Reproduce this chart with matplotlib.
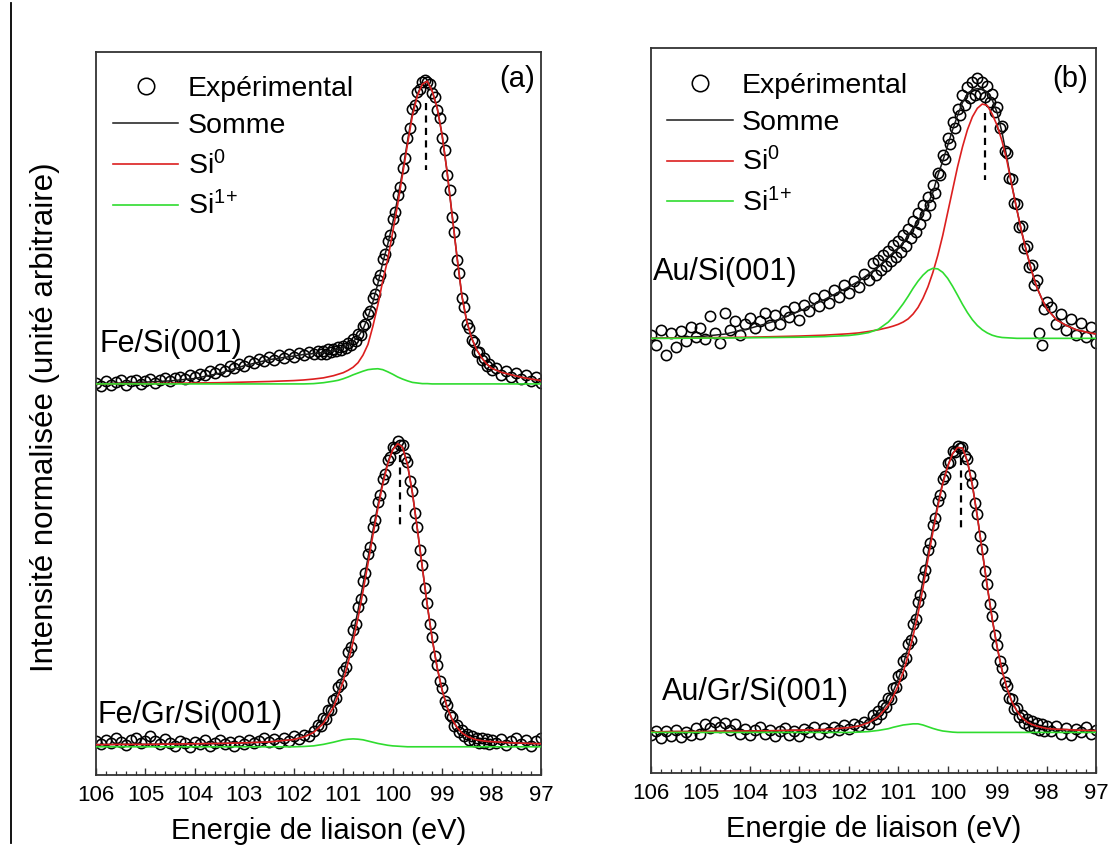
import numpy as np
import matplotlib
matplotlib.use("Agg")
import matplotlib.pyplot as plt
from matplotlib.lines import Line2D
from matplotlib.ticker import MultipleLocator, FormatStrFormatter

plt.rcParams['font.family'] = ['Liberation Sans', 'DejaVu Sans']
plt.rcParams['mathtext.fontset'] = 'custom'
plt.rcParams['mathtext.rm'] = 'Liberation Sans'
plt.rcParams['mathtext.it'] = 'Liberation Sans:italic'
plt.rcParams['mathtext.bf'] = 'Liberation Sans:bold'

# ---------------- data ----------------
# energies of the fitted curves (eV)
E_FIT = [106.0, 105.5, 105.0, 104.5, 104.0, 103.5, 103.0, 102.5, 102.0,
         101.8, 101.6, 101.4, 101.2,
         101.1, 101.0, 100.9, 100.8, 100.7, 100.6, 100.5, 100.4, 100.3, 100.2,
         100.1, 100.0, 99.9, 99.8, 99.7, 99.6, 99.5, 99.4, 99.3, 99.2,
         99.1, 99.0, 98.9, 98.8, 98.7, 98.6, 98.5, 98.4, 98.3, 98.2,
         98.1, 98.0,
         97.8, 97.6, 97.4, 97.2, 97.0]

# energies of the experimental points (eV)
E_EXP = np.concatenate([np.linspace(106.0, 101.6, 45),
                        np.linspace(101.5, 98.0, 71),
                        np.linspace(97.9, 97.0, 10)])

# ---- Fe/Si(001) ----
fesi_exp = [0.004, -0.008, 0.010, -0.004, 0.006, 0.012, -0.002, 0.008, 0.014, 0.000,
            0.010, 0.016, 0.004, 0.012, 0.020, 0.008, 0.018, 0.024, 0.016, 0.028,
            0.022, 0.034, 0.030, 0.042, 0.036, 0.048, 0.044, 0.058, 0.052, 0.066,
            0.060, 0.074, 0.068, 0.082, 0.074, 0.088, 0.080, 0.094, 0.086, 0.098,
            0.090, 0.102, 0.094, 0.106, 0.098,
            0.108, 0.098, 0.110, 0.100, 0.114, 0.104, 0.116, 0.108, 0.122, 0.112, 0.126,
            0.118, 0.136, 0.128, 0.148, 0.142, 0.166, 0.160, 0.192, 0.196, 0.232,
            0.240, 0.284, 0.296, 0.342, 0.360, 0.412, 0.428, 0.472, 0.490, 0.542,
            0.566, 0.622, 0.650, 0.712, 0.744, 0.812, 0.842, 0.905, 0.920, 0.962,
            0.972, 0.995, 1.002, 0.994, 0.990, 0.958, 0.946, 0.902, 0.876, 0.812,
            0.770, 0.690, 0.640, 0.550, 0.500, 0.410, 0.364, 0.282, 0.252, 0.198,
            0.184, 0.144, 0.138, 0.106, 0.106, 0.080, 0.084, 0.060, 0.066, 0.046,
            0.052, 0.030, 0.044, 0.024, 0.036, 0.016, 0.028, 0.010, 0.022, 0.004]
fesi_sum = [0.000, 0.003, 0.006, 0.010, 0.018, 0.035, 0.060, 0.080, 0.092,
            0.097, 0.100, 0.104, 0.110,
            0.114, 0.120, 0.128, 0.140, 0.155, 0.180, 0.220, 0.270, 0.330, 0.400,
            0.460, 0.530, 0.610, 0.700, 0.800, 0.895, 0.955, 0.990, 0.998, 0.965,
            0.910, 0.820, 0.700, 0.560, 0.420, 0.290, 0.205, 0.150, 0.112, 0.086,
            0.066, 0.052,
            0.038, 0.030, 0.022, 0.016, 0.011]
fesi_si0 = [0.000, 0.001, 0.001, 0.002, 0.003, 0.004, 0.006, 0.008, 0.011,
            0.013, 0.016, 0.020, 0.027,
            0.032, 0.037, 0.045, 0.055, 0.070, 0.095, 0.130, 0.190, 0.260, 0.340,
            0.410, 0.500, 0.590, 0.690, 0.790, 0.885, 0.950, 0.988, 0.998, 0.965,
            0.910, 0.820, 0.700, 0.560, 0.420, 0.290, 0.205, 0.150, 0.112, 0.086,
            0.066, 0.052,
            0.038, 0.030, 0.022, 0.016, 0.011]
fesi_si1 = [0.000, 0.000, 0.000, 0.000, 0.000, 0.000, 0.000, 0.000, 0.000,
            0.000, 0.001, 0.004, 0.009,
            0.012, 0.017, 0.023, 0.030, 0.036, 0.042, 0.047, 0.049, 0.050, 0.047,
            0.040, 0.032, 0.023, 0.016, 0.010, 0.005, 0.003, 0.001, 0.001, 0.000,
            0.000, 0.000, 0.000, 0.000, 0.000, 0.000, 0.000, 0.000, 0.000, 0.000,
            0.000, 0.000,
            0.000, 0.000, 0.000, 0.000, 0.000]

# ---- Fe/Gr/Si(001) ----
fegr_exp = [0.020, 0.008, 0.024, 0.012, 0.028, 0.016, 0.006, 0.022, 0.030, 0.014,
            0.020, 0.036, 0.018, 0.010, 0.026, 0.014, 0.004, 0.020, 0.012, 0.000,
            0.016, 0.008, 0.022, 0.004, 0.014, 0.024, 0.008, 0.016, 0.002, 0.018,
            0.010, 0.024, 0.012, 0.020, 0.030, 0.016, 0.026, 0.014, 0.028, 0.020,
            0.034, 0.026, 0.040, 0.036, 0.052,
            0.072, 0.068, 0.094, 0.092, 0.122, 0.120, 0.154, 0.160, 0.198, 0.208, 0.250,
            0.264, 0.314, 0.330, 0.384, 0.404, 0.462, 0.486, 0.548, 0.572, 0.634,
            0.660, 0.724, 0.748, 0.806, 0.830, 0.882, 0.900, 0.944, 0.954, 0.988,
            0.986, 1.008, 0.994, 0.994, 0.952, 0.938, 0.876, 0.844, 0.770, 0.724,
            0.648, 0.598, 0.522, 0.474, 0.404, 0.362, 0.300, 0.268, 0.216, 0.194,
            0.150, 0.138, 0.104, 0.098, 0.070, 0.072, 0.048, 0.054, 0.034, 0.042,
            0.024, 0.036, 0.018, 0.030, 0.014, 0.028, 0.012, 0.026, 0.010, 0.024,
            0.012, 0.026, 0.006, 0.020, 0.030, 0.010, 0.024, 0.004, 0.018, 0.028]
fegr_sum = [0.007, 0.008, 0.008, 0.009, 0.010, 0.011, 0.013, 0.016, 0.024,
            0.033, 0.050, 0.085, 0.144,
            0.189, 0.239, 0.303, 0.372, 0.450, 0.535, 0.622, 0.712, 0.796, 0.874,
            0.937, 0.981, 1.001, 0.988, 0.930, 0.836, 0.717, 0.591, 0.467, 0.355,
            0.261, 0.187, 0.131, 0.091, 0.064, 0.046, 0.035, 0.028, 0.023, 0.020,
            0.018, 0.017,
            0.015, 0.013, 0.012, 0.011, 0.010]
fegr_si0 = [0.007, 0.008, 0.008, 0.009, 0.010, 0.011, 0.013, 0.016, 0.024,
            0.032, 0.047, 0.077, 0.129,
            0.170, 0.216, 0.278, 0.346, 0.425, 0.512, 0.603, 0.697, 0.785, 0.866,
            0.932, 0.978, 0.999, 0.987, 0.930, 0.836, 0.717, 0.591, 0.467, 0.355,
            0.261, 0.187, 0.131, 0.091, 0.064, 0.046, 0.035, 0.028, 0.023, 0.020,
            0.018, 0.017,
            0.015, 0.013, 0.012, 0.011, 0.010]
fegr_si1 = [0.000, 0.000, 0.000, 0.000, 0.000, 0.000, 0.000, 0.000, 0.000,
            0.001, 0.003, 0.008, 0.015,
            0.019, 0.023, 0.025, 0.026, 0.025, 0.023, 0.019, 0.015, 0.011, 0.008,
            0.005, 0.003, 0.002, 0.001, 0.000, 0.000, 0.000, 0.000, 0.000, 0.000,
            0.000, 0.000, 0.000, 0.000, 0.000, 0.000, 0.000, 0.000, 0.000, 0.000,
            0.000, 0.000,
            0.000, 0.000, 0.000, 0.000, 0.000]

# ---- Au/Si(001) ----
ausi_exp = [0.012, -0.022, 0.030, -0.060, 0.018, -0.030, 0.026, -0.010, 0.040, 0.004,
            0.036, -0.004, 0.078, 0.020, -0.018, 0.088, 0.030, 0.060, 0.010, 0.050,
            0.072, 0.036, 0.060, 0.090, 0.048, 0.082, 0.050, 0.096, 0.074, 0.108,
            0.064, 0.118, 0.096, 0.140, 0.112, 0.150, 0.122, 0.168, 0.146, 0.186,
            0.160, 0.200, 0.178, 0.226, 0.204,
            0.262, 0.220, 0.274, 0.238, 0.290, 0.254, 0.306, 0.272, 0.326, 0.284, 0.340,
            0.302, 0.362, 0.322, 0.384, 0.350, 0.412, 0.372, 0.438, 0.400, 0.466,
            0.432, 0.496, 0.468, 0.536, 0.510, 0.580, 0.572, 0.640, 0.626, 0.700,
            0.680, 0.756, 0.736, 0.802, 0.782, 0.850, 0.818, 0.880, 0.842, 0.896,
            0.850, 0.912, 0.856, 0.896, 0.844, 0.882, 0.826, 0.856, 0.792, 0.810,
            0.736, 0.742, 0.654, 0.650, 0.562, 0.556, 0.472, 0.470, 0.390, 0.392,
            0.316, 0.322, 0.248, 0.256, 0.186, 0.204, 0.018, -0.022, 0.104, 0.126,
            0.108, 0.050, 0.084, 0.030, 0.066, 0.012, 0.052, 0.004, 0.040, -0.016]
ausi_sum = [0.000, 0.002, 0.006, 0.015, 0.035, 0.060, 0.095, 0.135, 0.180,
            0.200, 0.225, 0.250, 0.285,
            0.300, 0.315, 0.335, 0.360, 0.385, 0.410, 0.440, 0.470, 0.510, 0.570,
            0.620, 0.675, 0.730, 0.780, 0.825, 0.855, 0.870, 0.874, 0.872, 0.860,
            0.835, 0.790, 0.720, 0.630, 0.535, 0.450, 0.370, 0.300, 0.235, 0.180,
            0.140, 0.105,
            0.065, 0.045, 0.030, 0.022, 0.015]
ausi_si0 = [0.000, 0.001, 0.002, 0.003, 0.004, 0.006, 0.008, 0.011, 0.016,
            0.019, 0.024, 0.030, 0.038,
            0.043, 0.049, 0.057, 0.068, 0.085, 0.108, 0.140, 0.180, 0.230, 0.290,
            0.360, 0.440, 0.520, 0.600, 0.670, 0.730, 0.775, 0.805, 0.820, 0.815,
            0.785, 0.745, 0.690, 0.620, 0.533, 0.450, 0.370, 0.300, 0.235, 0.180,
            0.140, 0.105,
            0.065, 0.045, 0.030, 0.022, 0.015]
ausi_si1 = [0.000, 0.000, 0.001, 0.001, 0.002, 0.003, 0.004, 0.006, 0.010,
            0.014, 0.020, 0.032, 0.057,
            0.076, 0.098, 0.121, 0.147, 0.175, 0.200, 0.221, 0.237, 0.245, 0.243,
            0.231, 0.210, 0.182, 0.151, 0.119, 0.090, 0.065, 0.045, 0.030, 0.019,
            0.011, 0.006, 0.003, 0.002, 0.001, 0.000, 0.000, 0.000, 0.000, 0.000,
            0.000, 0.000,
            0.000, 0.000, 0.000, 0.000, 0.000]

# ---- Au/Gr/Si(001) ----
augr_exp = [-0.010, 0.006, -0.020, 0.004, -0.012, 0.008, -0.016, 0.002, -0.008, 0.014,
            -0.004, 0.030, 0.016, 0.036, 0.020, 0.032, 0.010, 0.028, -0.004, 0.012,
            -0.010, 0.008, 0.020, -0.006, 0.010, -0.014, 0.004, 0.016, -0.008, 0.006,
            -0.012, 0.012, 0.000, 0.018, -0.006, 0.014, 0.002, 0.020, 0.008, 0.026,
            0.012, 0.030, 0.022, 0.036, 0.030,
            0.060, 0.046, 0.074, 0.066, 0.096, 0.090, 0.120, 0.118, 0.156, 0.158, 0.198,
            0.204, 0.250, 0.260, 0.310, 0.324, 0.380, 0.398, 0.458, 0.480, 0.544,
            0.570, 0.638, 0.662, 0.726, 0.750, 0.810, 0.830, 0.886, 0.896, 0.942,
            0.948, 0.984, 0.980, 1.004, 0.994, 1.000, 0.966, 0.956, 0.900, 0.872,
            0.804, 0.764, 0.688, 0.642, 0.566, 0.520, 0.448, 0.406, 0.342, 0.306,
            0.250, 0.226, 0.178, 0.162, 0.122, 0.116, 0.082, 0.084, 0.054, 0.062,
            0.034, 0.048, 0.022, 0.040, 0.014, 0.034, 0.008, 0.028, 0.004, 0.024,
            0.006, 0.022, -0.004, 0.016, -0.010, 0.012, 0.000, 0.018, -0.006, 0.010]
augr_sum = [0.002, 0.003, 0.003, 0.004, 0.005, 0.006, 0.008, 0.010, 0.017,
            0.023, 0.037, 0.062, 0.108,
            0.144, 0.186, 0.237, 0.297, 0.367, 0.445, 0.531, 0.625, 0.714, 0.799,
            0.875, 0.933, 0.976, 0.997, 0.995, 0.948, 0.865, 0.756, 0.634, 0.512,
            0.398, 0.299, 0.217, 0.154, 0.107, 0.075, 0.052, 0.037, 0.028, 0.022,
            0.018, 0.014,
            0.011, 0.010, 0.008, 0.007, 0.006]
augr_si0 = [0.002, 0.003, 0.003, 0.004, 0.005, 0.006, 0.008, 0.010, 0.017,
            0.022, 0.034, 0.055, 0.095,
            0.126, 0.164, 0.211, 0.269, 0.337, 0.415, 0.505, 0.605, 0.700, 0.790,
            0.870, 0.930, 0.975, 0.997, 0.995, 0.948, 0.865, 0.756, 0.634, 0.512,
            0.398, 0.299, 0.217, 0.154, 0.107, 0.075, 0.052, 0.037, 0.028, 0.022,
            0.018, 0.014,
            0.011, 0.010, 0.008, 0.007, 0.006]
augr_si1 = [0.000, 0.000, 0.000, 0.000, 0.000, 0.000, 0.000, 0.000, 0.000,
            0.001, 0.003, 0.007, 0.013,
            0.018, 0.022, 0.026, 0.028, 0.030, 0.030, 0.026, 0.020, 0.014, 0.009,
            0.005, 0.003, 0.001, 0.000, 0.000, 0.000, 0.000, 0.000, 0.000, 0.000,
            0.000, 0.000, 0.000, 0.000, 0.000, 0.000, 0.000, 0.000, 0.000, 0.000,
            0.000, 0.000,
            0.000, 0.000, 0.000, 0.000, 0.000]

# vertical offsets of the upper spectrum in each panel
OFFSET_A = 1.196
OFFSET_B = 1.379

# dashed peak markers: energy, y start, y end
PEAK_A_E = [99.33, 99.85]
PEAK_A_Y = [(2.122, 1.901), (0.962, 0.724)]
PEAK_B_E = [99.24, 99.73]
PEAK_B_Y = [(2.168, 1.933), (0.960, 0.701)]

SAMPLE_LABELS_A = ['Fe/Si(001)', 'Fe/Gr/Si(001)']
SAMPLE_LABELS_B = ['Au/Si(001)', 'Au/Gr/Si(001)']
SAMPLE_POS_A = [(105.92, 1.328), (105.96, 0.105)]
SAMPLE_POS_B = [(105.96, 1.611), (105.78, 0.141)]

SERIES_NAMES = ['Expérimental', 'Somme', r'Si$^{\mathregular{0}}$',
                r'Si$^{1\!+}$']
XTICKS = [106, 105, 104, 103, 102, 101, 100, 99, 98, 97]

for arr in [fesi_exp, fegr_exp, ausi_exp, augr_exp]:
    assert len(arr) == len(E_EXP), len(arr)
for arr in [fesi_sum, fesi_si0, fesi_si1, fegr_sum, fegr_si0, fegr_si1,
            ausi_sum, ausi_si0, ausi_si1, augr_sum, augr_si0, augr_si1]:
    assert len(arr) == len(E_FIT), len(arr)

# ---------------- styling ----------------
RED = '#dc1f1f'
GREEN = '#2fdc2f'
BLACK = '#1a1a1a'
SPINE = '#333333'

W, H = 1109, 846
fig = plt.figure(figsize=(W / 100, H / 100), dpi=100)
fig.patch.set_facecolor('white')

axA = fig.add_axes([96 / W, 1 - 775 / H, 445 / W, 723 / H])
axB = fig.add_axes([651 / W, 1 - 773 / H, 445 / W, 725 / H])


def draw_panel(ax, spectra, offset, peak_e, peak_y, labels, label_pos, letter,
               ylim, letter_xy, legend_anchor):
    offs = [offset, 0.0]
    for k, (exp, tot, s0, s1) in enumerate(spectra):
        o = offs[k]
        ax.plot(E_EXP, np.asarray(exp) + o, ls='none', marker='o', ms=7.4,
                mfc='none', mec='black', mew=1.15, zorder=2,
                label=SERIES_NAMES[0] if k == 0 else None)
        ax.plot(E_FIT, np.asarray(tot) + o, color=BLACK, lw=1.1, zorder=3,
                label=SERIES_NAMES[1] if k == 0 else None)
        ax.plot(E_FIT, np.asarray(s0) + o, color=RED, lw=1.2, zorder=4,
                label=SERIES_NAMES[2] if k == 0 else None)
        ax.plot(E_FIT, np.asarray(s1) + o, color=GREEN, lw=1.2, zorder=4,
                label=SERIES_NAMES[3] if k == 0 else None)
    for e, (y0, y1) in zip(peak_e, peak_y):
        ax.plot([e, e], [y0, y1], color='black', lw=1.6, dashes=(3.2, 2.4),
                zorder=5)
    for txt, (x, y) in zip(labels, label_pos):
        ax.text(x, y, txt, fontsize=22, ha='left', va='center', zorder=6)
    ax.text(letter_xy[0], letter_xy[1], letter, transform=ax.transAxes,
            fontsize=21, ha='right', va='center')

    ax.set_xlim(106, 97)
    ax.set_ylim(*ylim)
    ax.set_xticks(XTICKS)
    ax.xaxis.set_major_formatter(FormatStrFormatter('%d'))
    ax.xaxis.set_minor_locator(MultipleLocator(0.2))
    ax.set_yticks([])
    ax.tick_params(axis='x', which='both', direction='in', top=False,
                   bottom=True, labelsize=16, pad=7, color=SPINE)
    ax.tick_params(axis='x', which='major', length=5, width=1.0)
    ax.tick_params(axis='x', which='minor', length=2.6, width=0.9)
    for sp in ax.spines.values():
        sp.set_color(SPINE)
        sp.set_linewidth(1.3)
    ax.set_xlabel('Energie de liaison (eV)', fontsize=21, labelpad=8)

    leg = ax.legend(loc='upper left', bbox_to_anchor=legend_anchor,
                    frameon=False, fontsize=20.5, handlelength=2.3,
                    handletextpad=0.32, labelspacing=0.40, borderpad=0,
                    borderaxespad=0, markerscale=1.6, numpoints=1)
    return leg


draw_panel(axA,
           [(fesi_exp, fesi_sum, fesi_si0, fesi_si1),
            (fegr_exp, fegr_sum, fegr_si0, fegr_si1)],
           OFFSET_A, PEAK_A_E, PEAK_A_Y, SAMPLE_LABELS_A, SAMPLE_POS_A, '(a)',
           (-0.093, 2.290), (0.9865, 0.963), (0.038, 0.9668))
draw_panel(axB,
           [(ausi_exp, ausi_sum, ausi_si0, ausi_si1),
            (augr_exp, augr_sum, augr_si0, augr_si1)],
           OFFSET_B, PEAK_B_E, PEAK_B_Y, SAMPLE_LABELS_B, SAMPLE_POS_B, '(b)',
           (-0.142, 2.395), (0.982, 0.957), (0.036, 0.966))

fig.text(45 / W, 1 - 417.5 / H, 'Intensité normalisée (unité arbitraire)',
         rotation=90, fontsize=22.5, ha='center', va='center')

fig.add_artist(Line2D([11 / W, 11 / W], [0.004, 0.996], color='black', lw=1.3))

fig.savefig('out.png', dpi=100, facecolor='white')
